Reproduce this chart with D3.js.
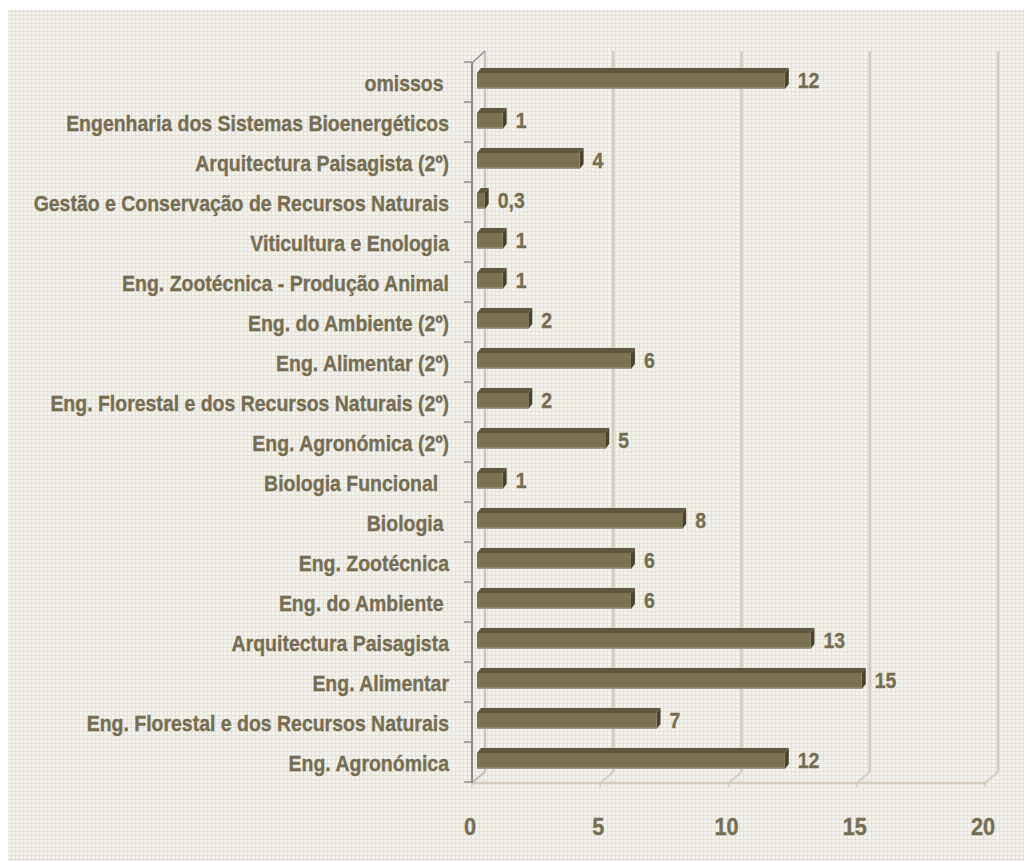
<!DOCTYPE html>
<html>
<head>
<meta charset="utf-8">
<script src="https://cdn.jsdelivr.net/npm/d3@7/dist/d3.min.js"></script>
<style>
  html, body { margin: 0; padding: 0; background: #ffffff; }
  svg { display: block; }
  text { white-space: pre; }
</style>
</head>
<body>
<svg id="chart" width="1024" height="861"></svg>
<script>
// Course names, listed top to bottom as they appear on the chart
const categories = [
  "omissos ",
  "Engenharia dos Sistemas Bioenergéticos",
  "Arquitectura Paisagista (2º)",
  "Gestão e Conservação de Recursos Naturais",
  "Viticultura e Enologia",
  "Eng. Zootécnica - Produção Animal",
  "Eng. do Ambiente (2º)",
  "Eng. Alimentar (2º)",
  "Eng. Florestal e dos Recursos Naturais (2º)",
  "Eng. Agronómica (2º)",
  "Biologia Funcional  ",
  "Biologia ",
  "Eng. Zootécnica",
  "Eng. do Ambiente ",
  "Arquitectura Paisagista",
  "Eng. Alimentar",
  "Eng. Florestal e dos Recursos Naturais",
  "Eng. Agronómica"
];

// Percentage per course
const values = [12, 1, 4, 0.3, 1, 1, 2, 6, 2, 5, 1, 8, 6, 6, 13, 15, 7, 12];

// Value axis ticks
const xTicks = [0, 5, 10, 15, 20];

const svg = d3.select("#chart");
const textColor = "#766e54";
const fontFamily = "'Liberation Sans Narrow', 'Arial Narrow', 'Liberation Sans', Arial, sans-serif";

// Textured chart background: fine light grid
const defs = svg.append("defs");
const pat = defs.append("pattern")
  .attr("id", "weave").attr("width", 4).attr("height", 4)
  .attr("patternUnits", "userSpaceOnUse");
pat.append("rect").attr("width", 4).attr("height", 4).attr("fill", "#f4f2ec");
pat.append("rect").attr("x", 0).attr("y", 3).attr("width", 4).attr("height", 1).attr("fill", "#e5e1d7");
pat.append("rect").attr("x", 3).attr("y", 0).attr("width", 1).attr("height", 4).attr("fill", "#e5e1d7");

svg.append("rect")
  .attr("x", 8).attr("y", 10).attr("width", 1016).attr("height", 851)
  .attr("fill", "url(#weave)");

// Scales: front plane of the 3D box, plus an oblique depth offset
const x = d3.scaleLinear().domain([0, 20]).range([472, 985]);
const y = d3.scaleBand().domain(categories).range([62, 782]);
const DX = 13, DY = -11;          // front -> back wall offset
const barShift = 5;               // bars sit slightly behind the front plane
const xBar = v => x(v) + barShift;
const floorY = y.range()[1] + 1;
const topY = y.range()[0];

const wallColor = "#d3ccbc";

// Back wall gridlines
svg.append("g").selectAll("line").data(xTicks).join("line")
  .attr("x1", d => x(d) + DX).attr("x2", d => x(d) + DX)
  .attr("y1", topY + DY).attr("y2", floorY + DY)
  .attr("stroke", d => d === 0 ? "#c4c2bc" : wallColor)
  .attr("stroke-width", d => d === 0 ? 2 : 2.5);

// Floor: front edge, depth lines and small tick marks
const floor = svg.append("g");
floor.append("line")
  .attr("x1", x(0)).attr("x2", x(20))
  .attr("y1", floorY).attr("y2", floorY)
  .attr("stroke", wallColor).attr("stroke-width", 2.5);
floor.selectAll("line.depth").data(xTicks).join("line").attr("class", "depth")
  .attr("x1", d => x(d)).attr("y1", floorY)
  .attr("x2", d => x(d) + DX).attr("y2", floorY + DY)
  .attr("stroke", wallColor).attr("stroke-width", 2);
floor.selectAll("line.tick").data(xTicks).join("line").attr("class", "tick")
  .attr("x1", d => x(d)).attr("x2", d => x(d))
  .attr("y1", floorY).attr("y2", floorY + 4)
  .attr("stroke", wallColor).attr("stroke-width", 1.5);

// Category axis line with ticks between bands
const axisG = svg.append("g");
axisG.append("line")
  .attr("x1", x(0)).attr("x2", x(0))
  .attr("y1", topY).attr("y2", floorY)
  .attr("stroke", "#8f8f8f").attr("stroke-width", 2.2);
axisG.append("line")
  .attr("x1", x(0)).attr("y1", topY + 1)
  .attr("x2", x(0) + DX).attr("y2", topY + DY)
  .attr("stroke", "#8f8f8f").attr("stroke-width", 1.5);
axisG.append("line")
  .attr("x1", x(0) + 2).attr("y1", floorY - 2)
  .attr("x2", x(0) + DX).attr("y2", floorY + DY)
  .attr("stroke", "#b9b7b0").attr("stroke-width", 1.2);
const boundaries = categories.map(c => y(c)).concat([y.range()[1]]);
axisG.selectAll("line.tk").data(boundaries).join("line").attr("class", "tk")
  .attr("x1", x(0) - 8).attr("x2", x(0))
  .attr("y1", d => d).attr("y2", d => d)
  .attr("stroke", "#8f8f8f").attr("stroke-width", 1.5);

// 3D bars: top face, side face, front face
const faceTop = 11, faceH = 16, bdx = 4, bdy = 5;
const data = categories.map((c, i) => ({ c, v: values[i] }));
const bars = svg.append("g").selectAll("g").data(data).join("g");

bars.append("polygon")
  .attr("points", d => {
    const x0 = xBar(0), x1 = xBar(d.v), yb = y(d.c) + faceTop;
    return [[x0, yb], [x1, yb], [x1 + bdx, yb - bdy], [x0 + bdx, yb - bdy]].join(" ");
  })
  .attr("fill", "#5f5741");
bars.append("polygon")
  .attr("points", d => {
    const x1 = xBar(d.v), yb = y(d.c) + faceTop;
    return [[x1, yb], [x1 + bdx, yb - bdy], [x1 + bdx, yb + faceH - bdy], [x1, yb + faceH]].join(" ");
  })
  .attr("fill", "#4a4331");
bars.append("rect")
  .attr("x", xBar(0))
  .attr("y", d => y(d.c) + faceTop)
  .attr("width", d => xBar(d.v) - xBar(0))
  .attr("height", faceH)
  .attr("fill", "#7b7153");
bars.append("rect")
  .attr("x", xBar(0))
  .attr("y", d => y(d.c) + faceTop + faceH - 1.5)
  .attr("width", d => xBar(d.v) - xBar(0))
  .attr("height", 1.5)
  .attr("fill", "#a19a84");

// Text helpers: narrow bold face, horizontally scaled to the intended width
const labelsG = svg.append("g");
function addText(parent, tx, ty, str, size, anchor) {
  const g = parent.append("g").attr("class", "lbl").attr("data-x", tx).attr("data-y", ty)
    .attr("transform", `translate(${tx},${ty})`);
  g.append("text")
    .attr("text-anchor", anchor)
    .attr("font-family", fontFamily)
    .attr("font-weight", "bold")
    .attr("font-size", size)
    .attr("fill", textColor)
    .attr("stroke", textColor)
    .attr("stroke-width", 0.35)
    .text(str);
  return g;
}

// Category labels
const catLabelX = 449;
categories.forEach(c => addText(labelsG, catLabelX, y(c) + y.bandwidth() / 2 + 8.5, c, 22, "end"));

// Value labels (comma decimal separator)
const pt = d3.formatLocale({ decimal: ",", thousands: ".", grouping: [3], currency: ["", " €"] });
const fmt = pt.format("~g");
data.forEach(d => addText(labelsG, xBar(d.v) + bdx + 9, y(d.c) + faceTop + faceH / 2 + 7, fmt(d.v), 22, "start"));

// Value axis tick labels
xTicks.forEach(t => addText(labelsG, x(t) - 2, 835, fmt(t), 24.5, "middle"));

// Fit horizontal scale so the longest category label spans its measured width
const probe = labelsG.selectAll("g.lbl text").filter(function () {
  return this.textContent === "Engenharia dos Sistemas Bioenergéticos";
}).node();
let k = 1;
if (probe) {
  const w = probe.getComputedTextLength();
  if (w > 0) k = Math.max(0.7, Math.min(1.15, 383 / w));
}
labelsG.selectAll("g.lbl").attr("transform", function () {
  const g = d3.select(this);
  return `translate(${g.attr("data-x")},${g.attr("data-y")}) scale(${k},1)`;
});
</script>
</body>
</html>
